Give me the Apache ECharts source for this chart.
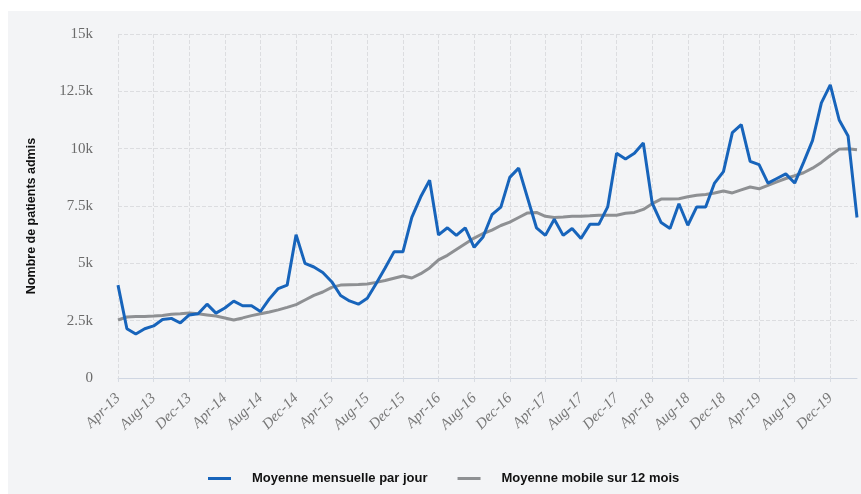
<!DOCTYPE html>
<html>
<head>
<meta charset="utf-8">
<script src="https://cdn.jsdelivr.net/npm/echarts@6/dist/echarts.min.js"></script>
<style>
  html, body { margin: 0; padding: 0; background: #ffffff; }
  #chart { position: absolute; left: 8px; top: 11px; width: 853px; height: 483px; background: #f3f4f6; }
</style>
</head>
<body>
<div id="chart"></div>
<script>
// mois : Apr-13 .. Mar-20
const monthNames = ['Jan', 'Feb', 'Mar', 'Apr', 'May', 'Jun', 'Jul', 'Aug', 'Sep', 'Oct', 'Nov', 'Dec'];
const months = [];
for (let i = 0; i < 84; i++) {
  const m = (3 + i) % 12;
  const y = 13 + Math.floor((3 + i) / 12);
  months.push(monthNames[m] + '-' + y);
}

// moyenne mensuelle par jour (milliers)
const mensuelle = [
  4.05, 2.15, 1.92, 2.15, 2.27, 2.55, 2.6, 2.4, 2.75, 2.8, 3.22, 2.83,
  3.05, 3.35, 3.15, 3.15, 2.9, 3.45, 3.9, 4.05, 6.25, 5.0, 4.84, 4.6,
  4.2, 3.6, 3.36, 3.22, 3.48, 4.12, 4.8, 5.5, 5.5, 7.0, 7.9, 8.62,
  6.24, 6.55, 6.22, 6.55, 5.7, 6.15, 7.12, 7.45, 8.75, 9.15, 7.85, 6.55,
  6.22, 6.92, 6.22, 6.52, 6.08, 6.7, 6.7, 7.46, 9.8, 9.55, 9.8, 10.25,
  7.62, 6.78, 6.52, 7.6, 6.66, 7.46, 7.46, 8.5, 9.0, 10.7, 11.05, 9.45,
  9.3, 8.5, 8.7, 8.9, 8.5, 9.4, 10.35, 12.0, 12.78, 11.25, 10.55, 7.0
];

// moyenne mobile sur 12 mois (milliers)
const mobile = [
  2.53, 2.66, 2.68, 2.68, 2.7, 2.73, 2.78, 2.8, 2.83, 2.8, 2.75, 2.7,
  2.62, 2.53, 2.62, 2.72, 2.8, 2.88, 2.97, 3.08, 3.2, 3.4, 3.6, 3.75,
  3.95, 4.05, 4.07, 4.08, 4.1, 4.17, 4.25, 4.35, 4.45, 4.36, 4.55, 4.8,
  5.15, 5.35, 5.6, 5.85, 6.1, 6.3, 6.45, 6.65, 6.8, 7.0, 7.2, 7.22,
  7.05, 7.0, 7.02, 7.05, 7.05, 7.07, 7.1, 7.1, 7.1, 7.18, 7.22, 7.35,
  7.6, 7.8, 7.8, 7.82, 7.9, 7.97, 8.0, 8.07, 8.15, 8.07, 8.2, 8.33,
  8.25, 8.4, 8.55, 8.7, 8.82, 8.95, 9.15, 9.4, 9.7, 9.98, 10.0, 9.95
];

const yTicks = ['0', '2.5k', '5k', '7.5k', '10k', '12.5k', '15k'];

const chart = echarts.init(document.getElementById('chart'));

const option = {
  animation: false,
  grid: { left: 110, right: 4, top: 23, bottom: 116 },
  legend: {
    bottom: 4,
    left: 195,
    itemWidth: 23,
    itemHeight: 3,
    itemGap: 30,
    icon: 'rect',
    textStyle: {
      fontFamily: 'Liberation Sans',
      fontWeight: 'bold',
      fontSize: 13,
      color: '#111',
      padding: [0, 0, 0, 16]
    },
    data: ['Moyenne mensuelle par jour', 'Moyenne mobile sur 12 mois']
  },
  xAxis: {
    type: 'category',
    data: months,
    boundaryGap: false,
    axisLine: { lineStyle: { color: '#cfd6e2', width: 1 } },
    axisTick: { show: true, interval: 3, length: 4, lineStyle: { color: '#d8dce3' } },
    axisLabel: {
      interval: 3,
      rotate: 45,
      margin: 18,
      fontFamily: 'Liberation Serif',
      fontStyle: 'italic',
      fontSize: 15,
      color: '#777'
    },
    splitLine: { show: true, interval: 3, lineStyle: { type: 'dashed', color: '#dcdde0' } }
  },
  yAxis: {
    type: 'value',
    min: 0,
    max: 15,
    interval: 2.5,
    name: 'Nombre de patients admis',
    nameLocation: 'middle',
    nameGap: 80,
    nameTextStyle: {
      fontFamily: 'Liberation Sans',
      fontWeight: 'bold',
      fontSize: 12.5,
      color: '#111',
      padding: [0, 20, 0, 0]
    },
    axisLine: { show: false },
    axisTick: { show: false },
    axisLabel: {
      margin: 25,
      fontFamily: 'Liberation Serif',
      fontSize: 15,
      color: '#6b6b6b',
      formatter: v => yTicks[Math.round(v / 2.5)]
    },
    splitLine: { lineStyle: { type: 'dashed', color: '#dcdde0' } }
  },
  series: [
    {
      name: 'Moyenne mensuelle par jour',
      type: 'line',
      data: mensuelle,
      symbol: 'none',
      lineStyle: { color: '#1764bb', width: 3 },
      itemStyle: { color: '#1764bb' },
      z: 3
    },
    {
      name: 'Moyenne mobile sur 12 mois',
      type: 'line',
      data: mobile,
      symbol: 'none',
      lineStyle: { color: '#8e9093', width: 3 },
      itemStyle: { color: '#8e9093' },
      z: 2
    }
  ]
};

chart.setOption(option);
</script>
</body>
</html>
